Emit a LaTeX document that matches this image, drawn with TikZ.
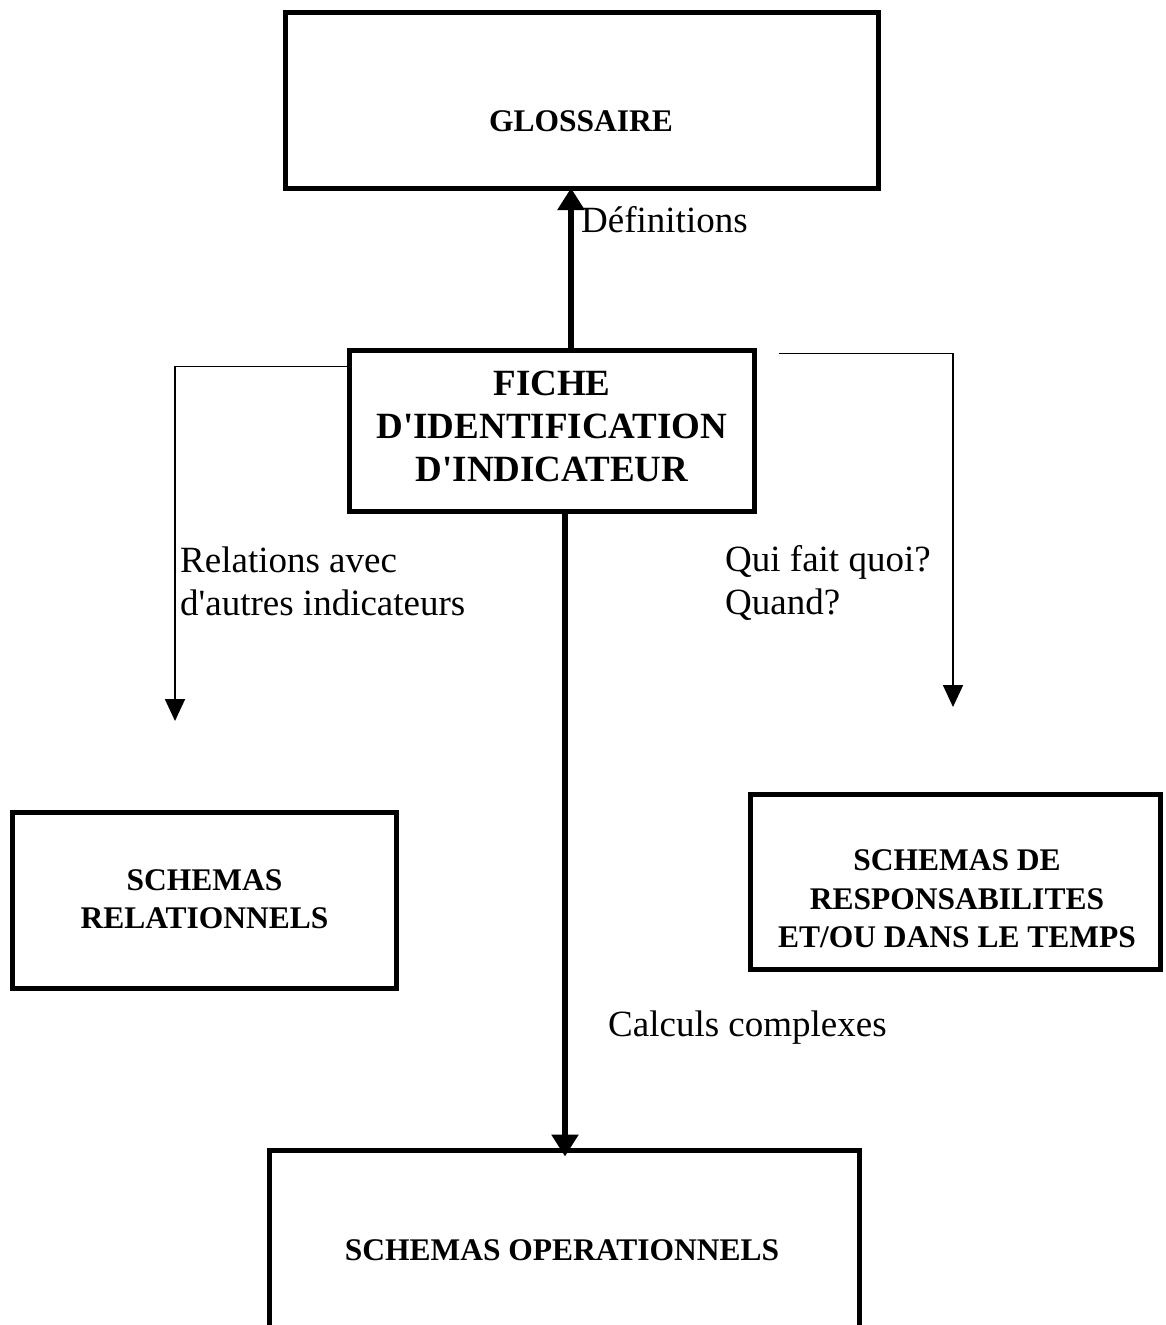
\documentclass[tikz,border=0pt]{standalone}
\usepackage{fontspec}
\setmainfont{Liberation Serif}
\usetikzlibrary{arrows.meta}
\begin{document}
\begin{tikzpicture}[x=1pt,y=-1pt,
  boxnode/.style={draw,line width=5pt,inner sep=0pt,outer sep=0pt},
  boxtext/.style={font=\bfseries\fontsize{31.5}{38.5}\selectfont,align=center,inner sep=0pt},
  bigtext/.style={font=\bfseries\fontsize{37}{43}\selectfont,align=center,inner sep=0pt},
  lbl/.style={font=\fontsize{37}{43}\selectfont,align=left,inner sep=0pt,anchor=west},
  thickarrow/.style={line width=6pt,-{Triangle[width=26pt,length=22pt]}},
  thinarrow/.style={line width=1.8pt,-{Triangle[width=20pt,length=22pt]}}]
\useasboundingbox (0,0) rectangle (1166,1325);
\clip (0,0) rectangle (1166,1325);
% boxes
\node[boxnode,minimum width=593pt,minimum height=176pt] (gloss) at (581.5,100) {};
\node[boxtext] (glosst) at (581,121) {GLOSSAIRE};
\node[boxnode,minimum width=405pt,minimum height=161pt] (fiche) at (552,431) {};
\node[bigtext] (fichet) at (552,426) {FICHE\\D\textquotesingle IDENTIFICATION\\D\textquotesingle INDICATEUR};
\node[boxnode,minimum width=384pt,minimum height=176pt] (rel) at (204.5,900.5) {};
\node[boxtext] (relt) at (204.5,899) {SCHEMAS\\RELATIONNELS};
\node[boxnode,minimum width=410pt,minimum height=175pt] (resp) at (955.5,882) {};
\node[boxtext] (respt) at (957,899) {SCHEMAS DE\\RESPONSABILITES\\ET/OU DANS LE TEMPS};
\node[boxnode,minimum width=590pt,minimum height=210pt] (oper) at (564.5,1255.5) {};
\node[boxtext] (opert) at (562,1250) {SCHEMAS OPERATIONNELS};
% free ends
\coordinate (upx) at (571,0);
\coordinate (downx) at (565,0);
\coordinate (lend) at (175,721);
\coordinate (rend) at (953,707);
% connectors
\draw[thickarrow] (fiche.north -| upx) -- (gloss.south -| upx);
\draw[thickarrow,shorten >=-6pt] (fiche.south -| downx) -- (oper.north -| downx);
\draw[thinarrow] ([yshift=-16pt]fiche.north west) -| (lend);
\draw[thinarrow] ([xshift=24pt,yshift=-3pt]fiche.north east) -| (rend);
% labels
\node[lbl] (ldef) at (581,220) {Définitions};
\node[lbl] (lrel) at (180,581) {Relations avec\\d\textquotesingle autres indicateurs};
\node[lbl] (lqui) at (725,583) {Qui fait quoi?\\Quand?};
\node[lbl] (lcalc) at (608,1028) {Calculs complexes};
\end{tikzpicture}
\end{document}
